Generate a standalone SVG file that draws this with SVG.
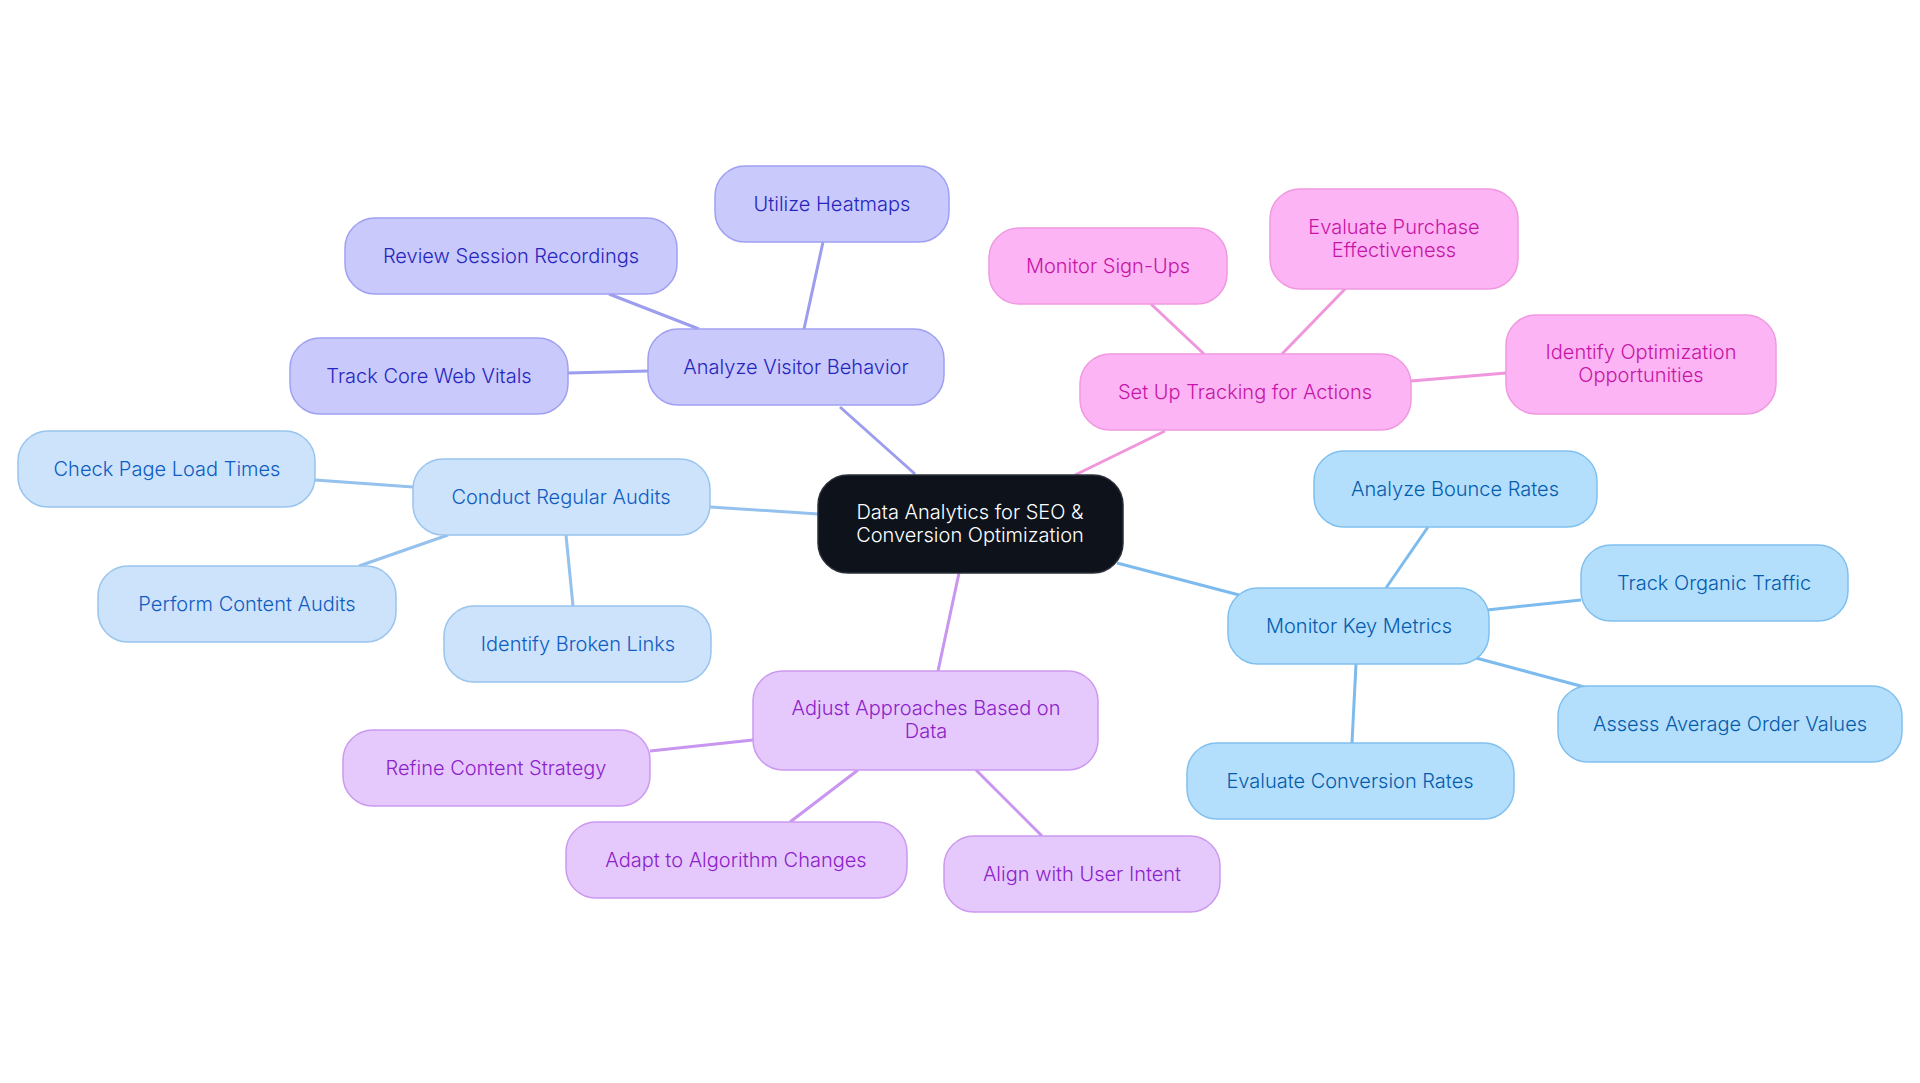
<svg xmlns="http://www.w3.org/2000/svg" width="1920" height="1083" viewBox="0 0 1920 1083">
<style>
text{font-family:Inter,"Noto Sans","Liberation Sans",sans-serif;font-size:20px;font-weight:300;text-anchor:middle;dominant-baseline:central}
rect{stroke-width:1.5}
.c line{stroke-width:3;fill:none}
.root rect{fill:#0d121b;stroke:#2a2f38}
.root text{fill:#ffffff}
.v rect{fill:#c9c9fc;stroke:#a0a0f2}
.v text{fill:#2626bd}
.a rect{fill:#cce3fb;stroke:#99c4ee}
.a text{fill:#0f5cc2}
.p rect{fill:#e6c9fc;stroke:#cc99f0}
.p text{fill:#8c22ca}
.b rect{fill:#b4dffc;stroke:#80c0ee}
.b text{fill:#045cad}
.k rect{fill:#fcb4f4;stroke:#f099e0}
.k text{fill:#c614a6}
.lv{stroke:#9d9df0}
.la{stroke:#94c1ee}
.lp{stroke:#c895f0}
.lb{stroke:#7dbbee}
.lk{stroke:#ef96dc}
</style>
<rect width="1920" height="1083" fill="#ffffff"/>
<g id="connectors" class="c">
<line class="lv" x1="915" y1="474" x2="840" y2="407"/>
<line class="lv" x1="804" y1="329" x2="823" y2="242"/>
<line class="lv" x1="699" y1="329" x2="609" y2="294"/>
<line class="lv" x1="648" y1="371" x2="568" y2="373"/>
<line class="la" x1="818" y1="514" x2="710" y2="507"/>
<line class="la" x1="413" y1="487" x2="315" y2="480"/>
<line class="la" x1="448" y1="535" x2="359" y2="566"/>
<line class="la" x1="566" y1="535" x2="573" y2="606"/>
<line class="lp" x1="959" y1="573" x2="938" y2="671"/>
<line class="lp" x1="753" y1="740" x2="650" y2="751"/>
<line class="lp" x1="858" y1="770" x2="790" y2="822"/>
<line class="lp" x1="976" y1="770" x2="1042" y2="836"/>
<line class="lb" x1="1117" y1="563" x2="1243" y2="596"/>
<line class="lb" x1="1386" y1="588" x2="1428" y2="527"/>
<line class="lb" x1="1487" y1="610" x2="1581" y2="600"/>
<line class="lb" x1="1476" y1="658" x2="1588" y2="688"/>
<line class="lb" x1="1356" y1="664" x2="1352" y2="743"/>
<line class="lk" x1="1075" y1="475" x2="1165" y2="431"/>
<line class="lk" x1="1204" y1="354" x2="1151" y2="304"/>
<line class="lk" x1="1282" y1="354" x2="1345" y2="289"/>
<line class="lk" x1="1411" y1="381" x2="1506" y2="373"/>
</g>
<g id="root" class="root"><rect x="818" y="475" width="305" height="98" rx="30"/><text x="970" y="512">Data Analytics for SEO &amp;</text><text x="970" y="535">Conversion Optimization</text></g>
<g id="analyze-visitor" class="v"><rect x="648" y="329" width="296" height="76" rx="30"/><text x="796" y="367">Analyze Visitor Behavior</text></g>
<g id="heatmaps" class="v"><rect x="715" y="166" width="234" height="76" rx="30"/><text x="832" y="204">Utilize Heatmaps</text></g>
<g id="session" class="v"><rect x="345" y="218" width="332" height="76" rx="30"/><text x="511" y="256">Review Session Recordings</text></g>
<g id="vitals" class="v"><rect x="290" y="338" width="278" height="76" rx="30"/><text x="429" y="376">Track Core Web Vitals</text></g>
<g id="audits" class="a"><rect x="413" y="459" width="297" height="76" rx="30"/><text x="561" y="497">Conduct Regular Audits</text></g>
<g id="load" class="a"><rect x="18" y="431" width="297" height="76" rx="30"/><text x="167" y="469">Check Page Load Times</text></g>
<g id="content-audits" class="a"><rect x="98" y="566" width="298" height="76" rx="30"/><text x="247" y="604">Perform Content Audits</text></g>
<g id="broken" class="a"><rect x="444" y="606" width="267" height="76" rx="30"/><text x="578" y="644">Identify Broken Links</text></g>
<g id="adjust" class="p"><rect x="753" y="671" width="345" height="99" rx="30"/><text x="926" y="708">Adjust Approaches Based on</text><text x="926" y="731">Data</text></g>
<g id="refine" class="p"><rect x="343" y="730" width="307" height="76" rx="30"/><text x="496" y="768">Refine Content Strategy</text></g>
<g id="adapt" class="p"><rect x="566" y="822" width="341" height="76" rx="30"/><text x="736" y="860">Adapt to Algorithm Changes</text></g>
<g id="intent" class="p"><rect x="944" y="836" width="276" height="76" rx="30"/><text x="1082" y="874">Align with User Intent</text></g>
<g id="metrics" class="b"><rect x="1228" y="588" width="261" height="76" rx="30"/><text x="1359" y="626">Monitor Key Metrics</text></g>
<g id="bounce" class="b"><rect x="1314" y="451" width="283" height="76" rx="30"/><text x="1455" y="489">Analyze Bounce Rates</text></g>
<g id="organic" class="b"><rect x="1581" y="545" width="267" height="76" rx="30"/><text x="1714" y="583">Track Organic Traffic</text></g>
<g id="order" class="b"><rect x="1558" y="686" width="344" height="76" rx="30"/><text x="1730" y="724">Assess Average Order Values</text></g>
<g id="conversion" class="b"><rect x="1187" y="743" width="327" height="76" rx="30"/><text x="1350" y="781">Evaluate Conversion Rates</text></g>
<g id="tracking" class="k"><rect x="1080" y="354" width="331" height="76" rx="30"/><text x="1245" y="392">Set Up Tracking for Actions</text></g>
<g id="signups" class="k"><rect x="989" y="228" width="238" height="76" rx="30"/><text x="1108" y="266">Monitor Sign-Ups</text></g>
<g id="purchase" class="k"><rect x="1270" y="189" width="248" height="100" rx="30"/><text x="1394" y="227">Evaluate Purchase</text><text x="1394" y="250">Effectiveness</text></g>
<g id="optimization" class="k"><rect x="1506" y="315" width="270" height="99" rx="30"/><text x="1641" y="352">Identify Optimization</text><text x="1641" y="375">Opportunities</text></g>
</svg>
